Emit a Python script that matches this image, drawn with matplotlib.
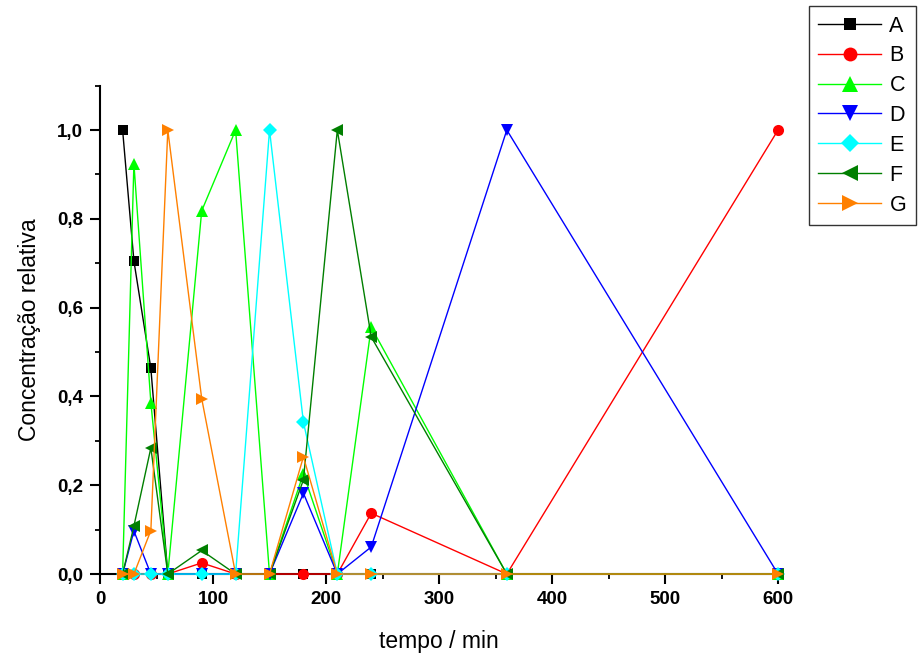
import matplotlib.pyplot as plt
from matplotlib.ticker import MultipleLocator, FuncFormatter

# tempo (min)
tempo = [20, 30, 45, 60, 90, 120, 150, 180, 210, 240, 360, 600]

# concentração relativa de cada espécie
A = [1.0, 0.705, 0.463, 0, 0, 0, 0, 0, 0, 0, 0, 0]
B = [0, 0, 0, 0, 0.025, 0, 0, 0, 0, 0.137, 0, 1.0]
C = [0, 0.924, 0.386, 0, 0.818, 1.0, 0, 0.226, 0, 0.556, 0, 0]
D = [0, 0.097, 0, 0, 0, 0, 0, 0.182, 0, 0.061, 1.0, 0]
E = [0, 0, 0, 0, 0, 0, 1.0, 0.342, 0, 0, 0, 0]
F = [0, 0.108, 0.284, 0, 0.053, 0, 0, 0.212, 1.0, 0.534, 0, 0]
G = [0, 0, 0.098, 1.0, 0.395, 0, 0, 0.264, 0, 0, 0, 0]

nomes = ['A', 'B', 'C', 'D', 'E', 'F', 'G']
series = [A, B, C, D, E, F, G]
cores = ['black', '#ff0000', '#00ff00', '#0000ff', '#00ffff', '#007f00', '#ff8000']
marcas = ['s', 'o', '^', 'v', 'D', '<', '>']
tamanhos = [7, 8, 9, 9, 7, 9, 9]

plt.rcParams['font.family'] = ['Liberation Sans', 'DejaVu Sans']

fig = plt.figure(figsize=(9.2, 6.57), dpi=100)
ax = fig.add_axes([0.1087, 0.1263, 0.737, 0.7434])

linhas = []
for nome, ys, c, m, ms in zip(nomes, series, cores, marcas, tamanhos):
    l, = ax.plot(tempo, ys, color=c, marker=m, markersize=ms, linewidth=1.0,
                 markeredgewidth=0, label=nome, clip_on=False, zorder=3)
    linhas.append(l)

ax.set_xlim(0, 600)
ax.set_ylim(0, 1.1)
ax.spines['top'].set_visible(False)
ax.spines['right'].set_visible(False)
ax.spines['left'].set_linewidth(1.5)
ax.spines['bottom'].set_linewidth(1.5)

ax.xaxis.set_major_locator(MultipleLocator(100))
ax.xaxis.set_minor_locator(MultipleLocator(50))
ax.yaxis.set_major_locator(MultipleLocator(0.2))
ax.yaxis.set_minor_locator(MultipleLocator(0.1))
ax.yaxis.set_major_formatter(FuncFormatter(lambda v, p: f'{v:.1f}'.replace('.', ',')))
ax.tick_params(which='major', direction='out', length=7, width=1.5, labelsize=13.5, pad=5)
ax.tick_params(which='minor', direction='out', length=3.5, width=1.3)
for t in ax.get_xticklabels() + ax.get_yticklabels():
    t.set_fontweight('bold')

ax.set_xlabel('tempo / min', fontsize=16.5, labelpad=16)
ax.set_ylabel('Concentração relativa', fontsize=16.5, labelpad=12)

leg = fig.legend(handles=linhas, loc='upper right', bbox_to_anchor=(0.999, 0.996),
                 fontsize=15.5, frameon=True, fancybox=False, edgecolor='black',
                 handlelength=2.9, labelspacing=0.41, borderpad=0.45, handletextpad=0.4,
                 borderaxespad=0.15, markerscale=1.25)
leg.get_frame().set_linewidth(1.0)

fig.savefig('out.png', dpi=100)
